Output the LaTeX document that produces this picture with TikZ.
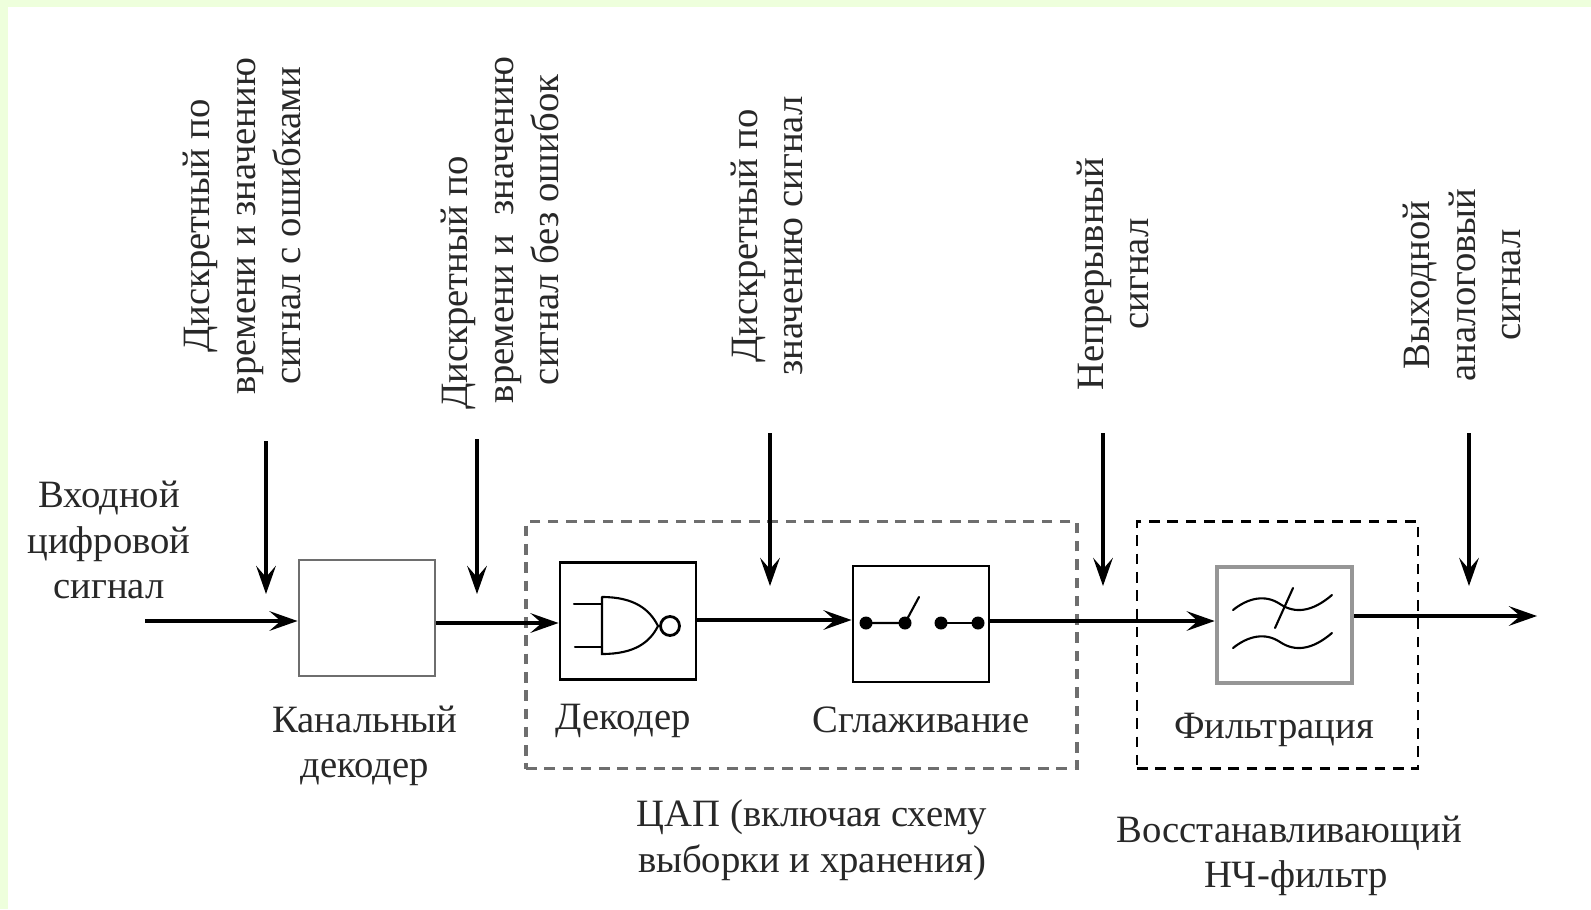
\documentclass[tikz,border=0pt]{standalone}
\usepackage{fontspec}
\setmainfont{Liberation Serif}
\usepackage{xcolor}
\usetikzlibrary{arrows.meta, positioning}
\definecolor{edge}{RGB}{238,255,220}
\definecolor{ink}{RGB}{40,40,40}
\definecolor{midgray}{RGB}{110,110,110}
\definecolor{softgray}{RGB}{150,150,150}

\begin{document}
\begin{tikzpicture}[
  x=0.01cm, y=-0.01cm,
  block/.style={rectangle, draw, line width=0.8pt, inner sep=0pt},
  group/.style={rectangle, draw, line width=0.8pt, dash pattern=on 3pt off 2.2pt, inner sep=0pt},
  caption/.style={align=center, text=ink, font=\fontsize{11}{13}\selectfont, inner sep=0pt},
  vcaption/.style={caption, rotate=90},
  arrow/.style={-{Stealth[length=8pt, width=5.6pt, inset=3.2pt]}, line width=0.9pt},
  icon/.style={line width=0.6pt, line cap=round}
]
\fill[edge] (0,0) rectangle (1591,909);
\fill[white] (8,7) rectangle (1591,909);
\useasboundingbox (0,0) rectangle (1591,909);

% dashed groups
\node[group, draw=midgray, line width=0.9pt, minimum width=551*0.01cm, minimum height=247*0.01cm] (dacbox) at (801.5,645) {};
\node[group, minimum width=281*0.01cm, minimum height=247*0.01cm] (filtbox) at (1277.5,645) {};

% blocks
\node[block, draw=midgray, minimum width=1.36cm, minimum height=1.16cm] (chan) at (367,618) {};
\node[block, minimum width=1.36cm, minimum height=1.17cm] (dec) at (628,621) {};
\node[block, minimum width=1.36cm, minimum height=1.16cm] (hold) at (921,624) {};
\node[block, draw=softgray, line width=1.3pt, minimum width=1.35cm, minimum height=1.16cm] (filt) at (1284.5,625) {};

% captions
\node[caption] (input) at (109,540) {Входной\\цифровой\\сигнал};
\node[caption] (chanlab) at (365,746) {Канальный\\декодер};
\node[caption] (declab) at (623,721) {Декодер};
\node[caption] (holdlab) at (921,720) {Сглаживание};
\node[caption] (filtlab) at (1274,730) {Фильтрация};
\node[caption] (daclab) at (812,840) {ЦАП (включая схему\\выборки и хранения)};
\node[caption] (lpflab) at (1289,856) {Восстанавливающий\\\hspace*{0.14cm}НЧ-фильтр};
\node[vcaption] (sigone) at (242,226) {Дискретный по\\времени и значению\\сигнал с ошибками};
\node[vcaption] (sigtwo) at (500,230) {Дискретный по\hspace*{1.06cm}\\времени и\ \ значению\\сигнал без ошибок};
\node[vcaption] (sigthree) at (767,236) {Дискретный по\\значению сигнал};
\node[vcaption] (sigfour) at (1113,274) {Непрерывный\\сигнал};
\node[vcaption] (sigfive) at (1462,285) {Выходной\\аналоговый\\сигнал};

% free ends
\coordinate (start) at (145,621);
\coordinate (stop) at (1537,616);
\coordinate (oneup) at (266,441);
\coordinate (onedown) at (266,594);
\coordinate (twoup) at (477,439);
\coordinate (twodown) at (477,594);
\coordinate (threeup) at (770,433);
\coordinate (threedown) at (770,586);
\coordinate (fourup) at (1103,433);
\coordinate (fourdown) at (1103,586);
\coordinate (fiveup) at (1469,433);
\coordinate (fivedown) at (1469,586);
\coordinate (linea) at (500,623);
\coordinate (lineb) at (800,620);
\coordinate (linec) at (1100,621);

% signal path
\draw[arrow] (start) -- (chan.west |- start);
\draw[arrow] (chan.east |- linea) -- (dec.west |- linea);
\draw[arrow] (dec.east |- lineb) -- (hold.west |- lineb);
\draw[arrow] (hold.east |- linec) -- (filt.west |- linec);
\draw[arrow] (filt.east |- stop) -- (stop);

% probes
\draw[arrow] (oneup) -- (onedown);
\draw[arrow] (twoup) -- (twodown);
\draw[arrow] (threeup) -- (threedown);
\draw[arrow] (fourup) -- (fourdown);
\draw[arrow] (fiveup) -- (fivedown);

% gate
\draw[icon] (574,604) -- (602,604);
\draw[icon] (575,647) -- (602,647);
\draw[icon] (602,597) -- (602,654) .. controls (635,654) and (650,642) .. (658,626) .. controls (650,610) and (635,597) .. (602,597);
\draw[icon, line width=0.8pt] (670,626) circle (9.5);

% switch
\draw[icon] (866,623) -- (905,623) -- (919,597);
\draw[icon] (941,623) -- (978,623);
\foreach \px in {866,905,941,978}
  \fill (\px,623) circle (6.5);

% filter waves
\draw[icon] (1233,610) .. controls (1248,598) and (1265,594) .. (1280,604) .. controls (1295,614) and (1312,612) .. (1332,595);
\draw[icon] (1233,648) .. controls (1248,636) and (1265,632) .. (1280,642) .. controls (1295,652) and (1312,650) .. (1332,633);
\draw[icon] (1293,588) -- (1275,628);
\end{tikzpicture}
\end{document}
